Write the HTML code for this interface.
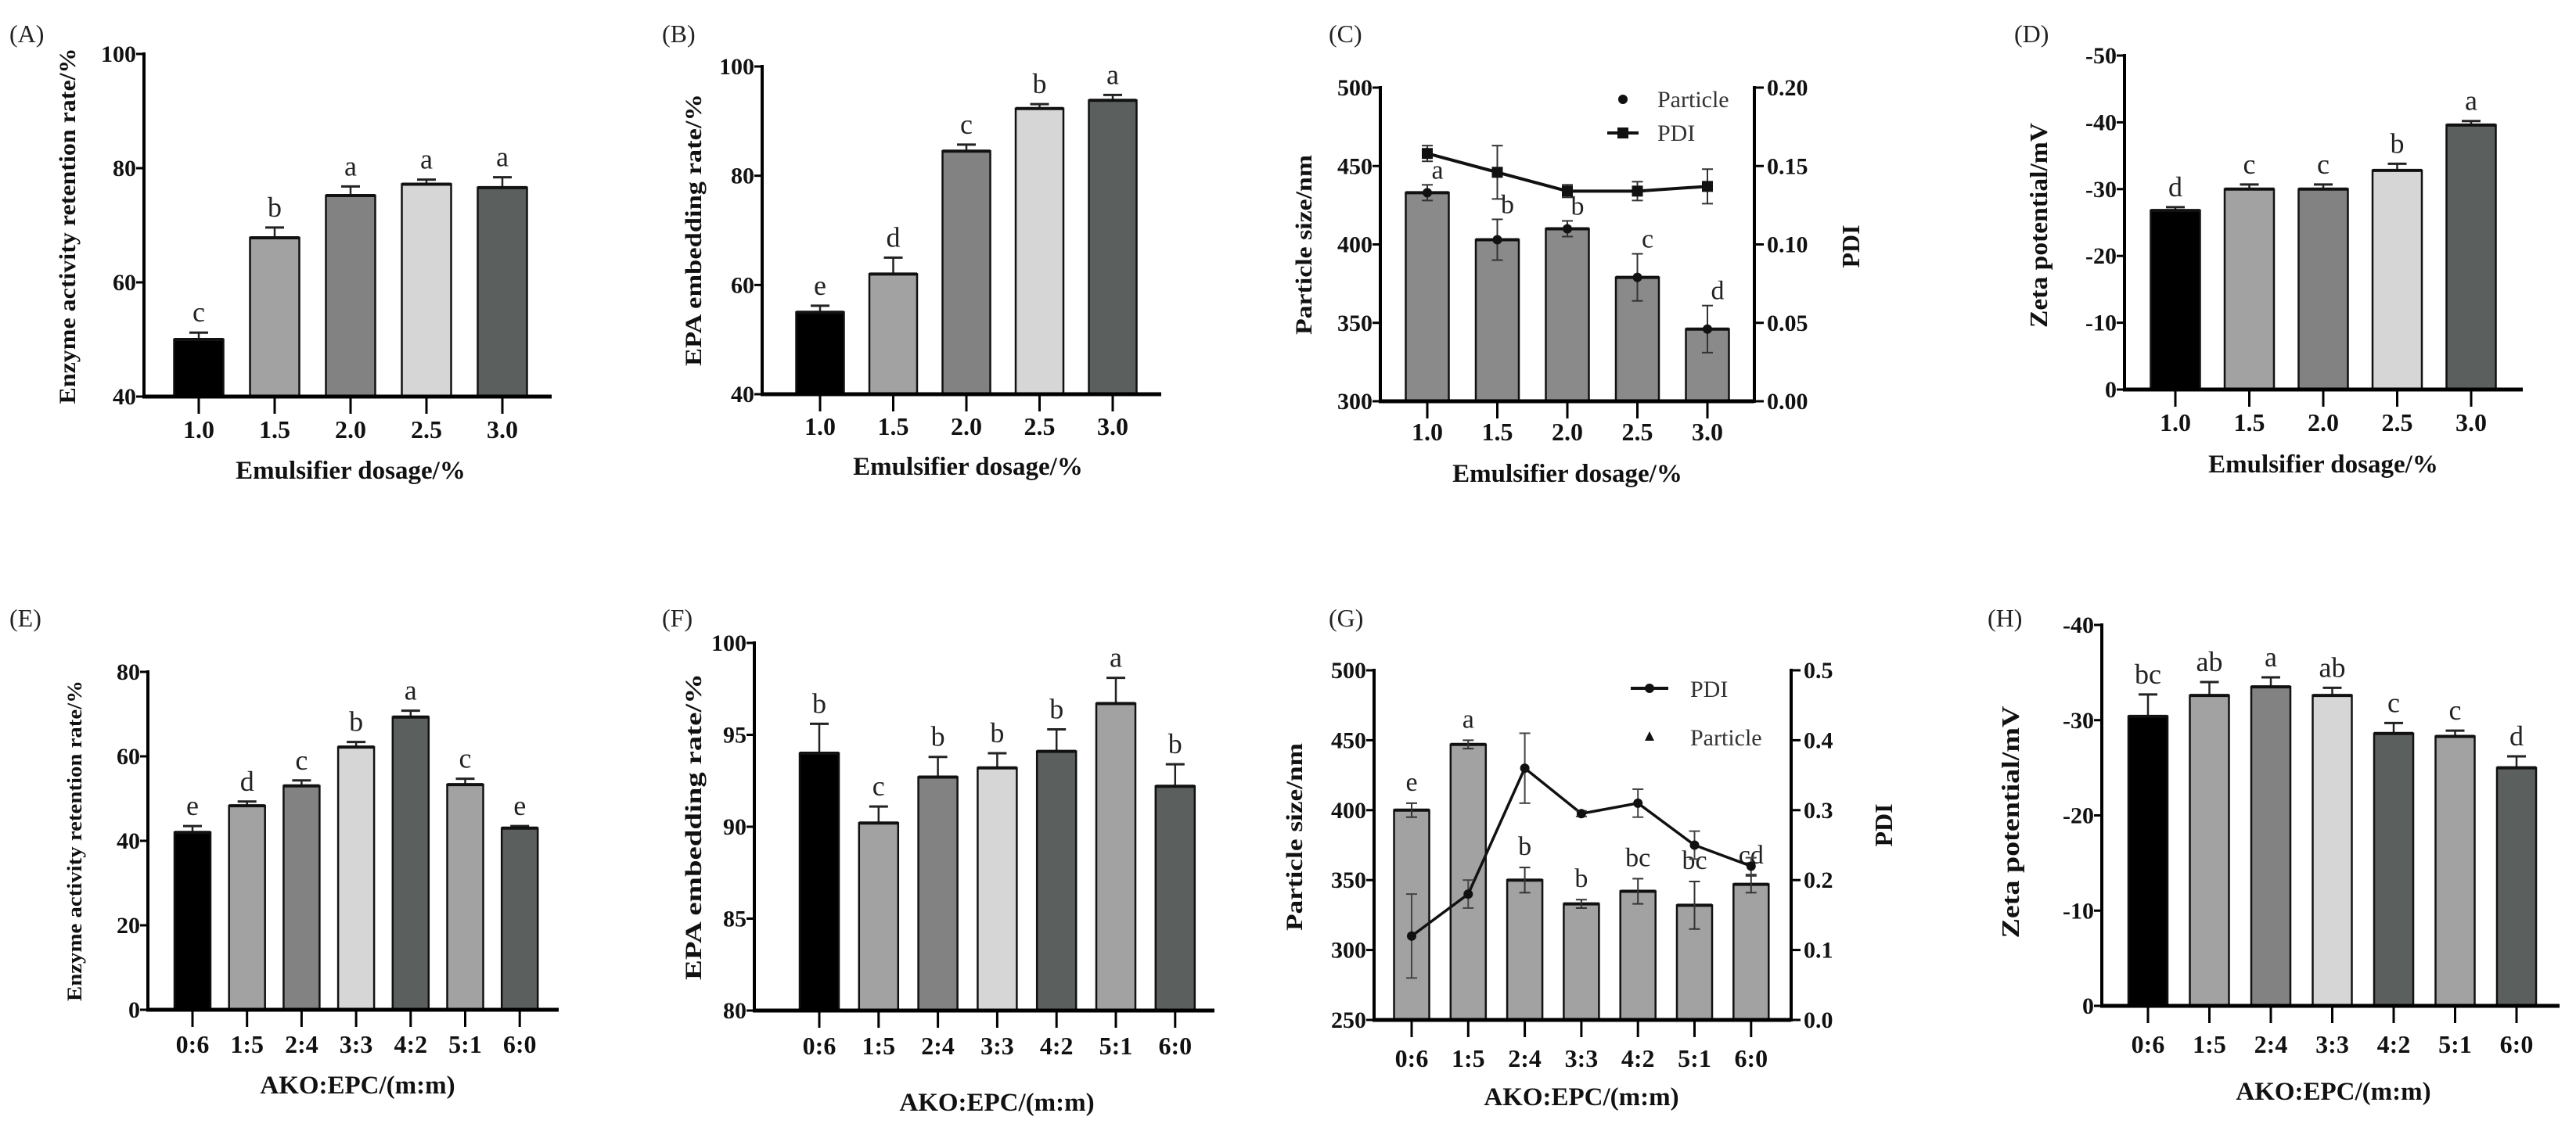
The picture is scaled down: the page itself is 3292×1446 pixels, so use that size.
<!DOCTYPE html>
<html><head><meta charset="utf-8"><style>
html,body{margin:0;padding:0;background:#fff;}
svg{display:block;font-family:"Liberation Serif",serif;}
</style></head><body>
<svg id="fig" width="3292" height="1446" viewBox="0 0 3292 1446" xmlns="http://www.w3.org/2000/svg"></svg>
<script>
// ---- Data ----
const catsDose = ["1.0","1.5","2.0","2.5","3.0"];
const catsRatio = ["0:6","1:5","2:4","3:3","4:2","5:1","6:0"];

const aVals = [50, 67.8, 75.2, 77.2, 76.6];
const aErr = [1.2, 1.8, 1.6, 0.8, 1.8];
const aLet = ["c","b","a","a","a"];
const aTicks = [40, 60, 80, 100];

const bVals = [55, 62, 84.5, 92.3, 93.8];
const bErr = [1.2, 3, 1.2, 0.8, 1.0];
const bLet = ["e","d","c","b","a"];
const bTicks = [40, 60, 80, 100];

const cParticle = [433, 403, 410, 379, 346];
const cParticleErr = [5, 13, 5, 15, 15];
const cPdi = [0.158, 0.146, 0.134, 0.134, 0.137];
const cPdiErr = [0.005, 0.017, 0.004, 0.006, 0.011];
const cLet = ["a","b","b","c","d"];
const cTicksL = [300, 350, 400, 450, 500];
const cTicksR = ["0.00","0.05","0.10","0.15","0.20"];

const dVals = [-26.8, -30, -30, -32.8, -39.6];
const dErr = [0.5, 0.7, 0.7, 1.0, 0.6];
const dLet = ["d","c","c","b","a"];
const dTicks = [0, -10, -20, -30, -40, -50];

const eVals = [42, 48.3, 53, 62.2, 69.3, 53.3, 43];
const eErr = [1.5, 1, 1.3, 1.2, 1.5, 1.4, 0.5];
const eLet = ["e","d","c","b","a","c","e"];
const eTicks = [0, 20, 40, 60, 80];

const fVals = [94, 90.2, 92.7, 93.2, 94.1, 96.7, 92.2];
const fErr = [1.6, 0.9, 1.1, 0.8, 1.2, 1.4, 1.2];
const fLet = ["b","c","b","b","b","a","b"];
const fTicks = [80, 85, 90, 95, 100];

const gParticle = [400, 447, 350, 333, 342, 332, 347];
const gParticleErr = [5, 3, 9, 3, 9, 17, 6];
const gPdi = [0.12, 0.18, 0.36, 0.295, 0.31, 0.25, 0.22];
const gPdiErr = [0.06, 0.02, 0.05, 0.004, 0.02, 0.02, 0.012];
const gLet = ["e","a","b","b","bc","bc","cd"];
const gTicksL = [250, 300, 350, 400, 450, 500];
const gTicksR = ["0.0","0.1","0.2","0.3","0.4","0.5"];

const hVals = [-30.4, -32.6, -33.5, -32.6, -28.6, -28.3, -25];
const hErr = [2.3, 1.4, 1, 0.8, 1.1, 0.6, 1.2];
const hLet = ["bc","ab","a","ab","c","c","d"];
const hTicks = [0, -10, -20, -30, -40];

const pal5 = ["#000000","#a2a2a2","#828282","#d6d6d6","#5b5f5d"];
const pal7 = ["#000000","#a2a2a2","#828282","#d6d6d6","#5b5f5d","#a2a2a2","#5b5f5d"];

// ---- helpers ----
const svg = document.getElementById('fig');
const NS = "http://www.w3.org/2000/svg";
function mk(tag, attrs, parent){
  const el = document.createElementNS(NS, tag);
  for (const k in attrs) el.setAttribute(k, attrs[k]);
  (parent||svg).appendChild(el);
  return el;
}
function txt(s, attrs, parent){ const t = mk('text', attrs, parent); t.textContent = s; return t; }

function yScale(p, v){ return p.yBot + (v - p.vmin)/(p.vmax - p.vmin)*(p.yTop - p.yBot); }
function xScale(p, i){ return p.c0 + i*p.step; }

function axes(p, g, ticks, cats, name){
  const ax = mk('line',{x1:p.ax,y1:p.yTop-2,x2:p.ax,y2:p.yBot+2,stroke:'#000','stroke-width':4},g);
  
  
  const xa = mk('line',{x1:p.ax-2,y1:p.yBot,x2:p.xEnd,y2:p.yBot,stroke:'#000','stroke-width':5},g);
  
  
  ticks.forEach(t=>{
    const y = yScale(p,t);
    mk('line',{x1:p.ax-10,y1:y,x2:p.ax,y2:y,stroke:'#000','stroke-width':3},g);
    const tl = txt(String(t),{x:p.ax-10,y:y+10,'text-anchor':'end','font-size':30,'font-weight':'bold',fill:'#111'},g);
    
    
  });
  cats.forEach((c,i)=>{
    const x = xScale(p,i);
    mk('line',{x1:x,y1:p.yBot,x2:x,y2:p.yBot+22,stroke:'#000','stroke-width':3},g);
    const cl = txt(c,{x:x,y:p.labY,'text-anchor':'middle','font-size':32,'font-weight':'bold',fill:'#111'},g);
    
    
  });
}
function titles(p, g, xt, yt, name){
  const a = txt(xt,{x:p.xtX,y:p.xtY,'text-anchor':'middle','font-size':33,'font-weight':'bold',fill:'#111'},g);
  
  
  const b = txt(yt,{x:0,y:0,'text-anchor':'middle','font-size':p.ytSize||30,'font-weight':'bold',fill:'#111',
    transform:`translate(${p.ytX},${p.ytY}) rotate(-90)`,textLength:p.ytLen,lengthAdjust:'spacingAndGlyphs'},g);
  
  
  const l = txt(p.label,{x:p.lx,y:p.ly,'font-size':32,fill:'#222'},g);
  
  
}
function errBar(g, x, y1, y2, cap, w){
  mk('line',{x1:x,y1:y1,x2:x,y2:y2,stroke:'#222','stroke-width':w||2.5},g);
  mk('line',{x1:x-cap,y1:y1,x2:x+cap,y2:y1,stroke:'#222','stroke-width':3},g);
}
function bars(p, g, vals, errs, lets, colors, name){
  vals.forEach((v,i)=>{
    const x = xScale(p,i), y = yScale(p,v), y0 = yScale(p,p.vmin);
    const r = mk('rect',{x:x-p.w/2,y:Math.min(y,y0),width:p.w,height:Math.abs(y0-y),fill:colors[i],stroke:'#111','stroke-width':2.5},g);
    
    
    const ye = yScale(p, v + (p.vmax>p.vmin?1:-1)*errs[i]);
    errBar(g, x, ye, y, 12);
    mk('line',{x1:x-p.w/2,y1:y,x2:x+p.w/2,y2:y,stroke:'#111','stroke-width':4},g);
    const t = txt(lets[i],{x:x,y:ye-14,'text-anchor':'middle','font-size':36,fill:'#222'},g);
    
    
  });
}

// ---- Panel A ----
{
  const g = mk('g',{});  
  const p = {ax:184,xEnd:705,yTop:69,yBot:507,vmin:40,vmax:100,c0:254,step:97,w:63,labY:560,
    xtX:448,xtY:612,ytX:96,ytY:289,ytLen:455,label:'(A)',lx:12,ly:54};
  bars(p,g,aVals,aErr,aLet,pal5,'panel-a');
  axes(p,g,aTicks,catsDose,'panel-a');
  titles(p,g,'Emulsifier dosage/%','Enzyme activity retention rate/%','panel-a');
}
// ---- Panel B ----
{
  const g = mk('g',{});  
  const p = {ax:974,xEnd:1484,yTop:85,yBot:504,vmin:40,vmax:100,c0:1048,step:93.5,w:61,labY:556,
    xtX:1237,xtY:607,ytX:896,ytY:294,ytLen:348,label:'(B)',lx:846,ly:54};
  bars(p,g,bVals,bErr,bLet,pal5,'panel-b');
  axes(p,g,bTicks,catsDose,'panel-b');
  titles(p,g,'Emulsifier dosage/%','EPA embedding rate/%','panel-b');
}
// ---- Panel C ----
{
  const g = mk('g',{});  
  const p = {ax:1764,xEnd:2242,yTop:112,yBot:513,vmin:300,vmax:500,c0:1824,step:89.5,w:55,labY:563,
    xtX:2003,xtY:616,ytX:1676,ytY:313,ytLen:230,label:'(C)',lx:1698,ly:54};
  const pr = {yTop:112,yBot:513,vmin:0,vmax:0.2};
  cParticle.forEach((v,i)=>{
    const x = xScale(p,i), y = yScale(p,v), y0 = p.yBot;
    const r = mk('rect',{x:x-p.w/2,y:y,width:p.w,height:y0-y,fill:'#8a8a8a',stroke:'#111','stroke-width':2.5},g);
    
    
    mk('line',{x1:x-p.w/2,y1:y,x2:x+p.w/2,y2:y,stroke:'#111','stroke-width':4},g);
    const ya = yScale(p,v+cParticleErr[i]), yb = yScale(p,v-cParticleErr[i]);
    mk('line',{x1:x,y1:ya,x2:x,y2:yb,stroke:'#333','stroke-width':2},g);
    mk('line',{x1:x-7,y1:ya,x2:x+7,y2:ya,stroke:'#333','stroke-width':2},g);
    mk('line',{x1:x-7,y1:yb,x2:x+7,y2:yb,stroke:'#333','stroke-width':2},g);
    const d = mk('circle',{cx:x,cy:y,r:6,fill:'#111'},g);
    
    
    const t = txt(cLet[i],{x:x+13,y:ya-8,'text-anchor':'middle','font-size':34,fill:'#222'},g);
    
    
  });
  const pts = cPdi.map((v,i)=>`${xScale(p,i)},${yScale(pr,v)}`).join(' ');
  const pl = mk('polyline',{points:pts,fill:'none',stroke:'#111','stroke-width':4},g);
  
  
  cPdi.forEach((v,i)=>{
    const x = xScale(p,i), y = yScale(pr,v);
    const ya = yScale(pr,v+cPdiErr[i]), yb = yScale(pr,v-cPdiErr[i]);
    mk('line',{x1:x,y1:ya,x2:x,y2:yb,stroke:'#333','stroke-width':2},g);
    mk('line',{x1:x-7,y1:ya,x2:x+7,y2:ya,stroke:'#333','stroke-width':2},g);
    mk('line',{x1:x-7,y1:yb,x2:x+7,y2:yb,stroke:'#333','stroke-width':2},g);
    const s = mk('rect',{x:x-7,y:y-7,width:14,height:14,fill:'#111'},g);
    
    
  });
  axes(p,g,cTicksL,catsDose,'panel-c');
  mk('line',{x1:2242,y1:p.yTop-2,x2:2242,y2:p.yBot+2,stroke:'#000','stroke-width':4},g);
  cTicksR.forEach(t=>{
    const y = yScale(pr,parseFloat(t));
    mk('line',{x1:2242,y1:y,x2:2254,y2:y,stroke:'#000','stroke-width':3},g);
    const tl = txt(t,{x:2258,y:y+10,'font-size':30,'font-weight':'bold',fill:'#111'},g);
    
    
  });
  titles(p,g,'Emulsifier dosage/%','Particle size/nm','panel-c');
  const rt = txt('PDI',{x:0,y:0,'text-anchor':'middle','font-size':32,'font-weight':'bold',fill:'#111',transform:'translate(2376,315) rotate(-90)'},g);
   
  const lg = mk('g',{},g);  
  mk('circle',{cx:2074,cy:127,r:6,fill:'#111'},lg);
  txt('Particle',{x:2118,y:137,'font-size':30,fill:'#333'},lg);
  mk('line',{x1:2054,y1:170,x2:2094,y2:170,stroke:'#111','stroke-width':4},lg);
  mk('rect',{x:2067,y:163,width:14,height:14,fill:'#111'},lg);
  txt('PDI',{x:2118,y:180,'font-size':30,fill:'#333'},lg);
}
// ---- Panel D ----
{
  const g = mk('g',{});  
  const p = {ax:2715,xEnd:3224,yTop:71,yBot:498,vmin:0,vmax:-50,c0:2780,step:94.5,w:63,labY:551,
    xtX:2969,xtY:604,ytX:2616,ytY:288,ytLen:262,ytSize:32,label:'(D)',lx:2574,ly:54};
  bars(p,g,dVals,dErr,dLet,pal5,'panel-d');
  axes(p,g,dTicks,catsDose,'panel-d');
  titles(p,g,'Emulsifier dosage/%','Zeta potential/mV','panel-d');
}
// ---- Panel E ----
{
  const g = mk('g',{});  
  const p = {ax:189,xEnd:714,yTop:859,yBot:1291,vmin:0,vmax:80,c0:246,step:69.7,w:46,labY:1346,
    xtX:457,xtY:1398,ytX:104,ytY:1075,ytLen:410,ytSize:26,label:'(E)',lx:12,ly:801};
  bars(p,g,eVals,eErr,eLet,pal7,'panel-e');
  axes(p,g,eTicks,catsRatio,'panel-e');
  titles(p,g,'AKO:EPC/(m:m)','Enzyme activity retention rate/%','panel-e');
}
// ---- Panel F ----
{
  const g = mk('g',{});  
  const p = {ax:964,xEnd:1552,yTop:822,yBot:1292,vmin:80,vmax:100,c0:1047,step:75.8,w:50,labY:1348,
    xtX:1274,xtY:1420,ytX:896,ytY:1057,ytLen:392,label:'(F)',lx:846,ly:801};
  bars(p,g,fVals,fErr,fLet,pal7,'panel-f');
  axes(p,g,fTicks,catsRatio,'panel-f');
  titles(p,g,'AKO:EPC/(m:m)','EPA embedding rate/%','panel-f');
}
// ---- Panel G ----
{
  const g = mk('g',{});  
  const p = {ax:1756,xEnd:2289,yTop:857,yBot:1304,vmin:250,vmax:500,c0:1804,step:72.3,w:45,labY:1364,
    xtX:2021,xtY:1413,ytX:1664,ytY:1070,ytLen:240,label:'(G)',lx:1698,ly:801};
  const pr = {yTop:857,yBot:1304,vmin:0,vmax:0.5};
  gParticle.forEach((v,i)=>{
    const x = xScale(p,i), y = yScale(p,v);
    const r = mk('rect',{x:x-p.w/2,y:y,width:p.w,height:p.yBot-y,fill:'#a2a2a2',stroke:'#111','stroke-width':2.5},g);
    
    
    mk('line',{x1:x-p.w/2,y1:y,x2:x+p.w/2,y2:y,stroke:'#111','stroke-width':4},g);
    const ya = yScale(p,v+gParticleErr[i]), yb = yScale(p,v-gParticleErr[i]);
    mk('line',{x1:x,y1:ya,x2:x,y2:yb,stroke:'#333','stroke-width':2},g);
    mk('line',{x1:x-7,y1:ya,x2:x+7,y2:ya,stroke:'#333','stroke-width':2},g);
    mk('line',{x1:x-7,y1:yb,x2:x+7,y2:yb,stroke:'#333','stroke-width':2},g);
    const t = txt(gLet[i],{x:x,y:ya-16,'text-anchor':'middle','font-size':34,fill:'#222'},g);
    
    
  });
  const pts = gPdi.map((v,i)=>`${xScale(p,i)},${yScale(pr,v)}`).join(' ');
  const pl = mk('polyline',{points:pts,fill:'none',stroke:'#111','stroke-width':3.5},g);
  
  
  gPdi.forEach((v,i)=>{
    const x = xScale(p,i), y = yScale(pr,v);
    const ya = yScale(pr,v+gPdiErr[i]), yb = yScale(pr,v-gPdiErr[i]);
    mk('line',{x1:x,y1:ya,x2:x,y2:yb,stroke:'#444','stroke-width':2},g);
    mk('line',{x1:x-7,y1:ya,x2:x+7,y2:ya,stroke:'#444','stroke-width':2},g);
    mk('line',{x1:x-7,y1:yb,x2:x+7,y2:yb,stroke:'#444','stroke-width':2},g);
    const c = mk('circle',{cx:x,cy:y,r:6,fill:'#111'},g);
    
    
  });
  axes(p,g,gTicksL,catsRatio,'panel-g');
  mk('line',{x1:2289,y1:p.yTop-2,x2:2289,y2:p.yBot+2,stroke:'#000','stroke-width':4},g);
  gTicksR.forEach(t=>{
    const y = yScale(pr,parseFloat(t));
    mk('line',{x1:2289,y1:y,x2:2301,y2:y,stroke:'#000','stroke-width':3},g);
    const tl = txt(t,{x:2305,y:y+10,'font-size':30,'font-weight':'bold',fill:'#111'},g);
    
    
  });
  titles(p,g,'AKO:EPC/(m:m)','Particle size/nm','panel-g');
  const rt = txt('PDI',{x:0,y:0,'text-anchor':'middle','font-size':32,'font-weight':'bold',fill:'#111',transform:'translate(2418,1055) rotate(-90)'},g);
   
  const lg = mk('g',{},g);  
  mk('line',{x1:2084,y1:880,x2:2132,y2:880,stroke:'#111','stroke-width':4},lg);
  mk('circle',{cx:2108,cy:880,r:6,fill:'#111'},lg);
  txt('PDI',{x:2160,y:891,'font-size':30,fill:'#333'},lg);
  mk('polygon',{points:'2108,935 2102,947 2114,947',fill:'#111'},lg);
  txt('Particle',{x:2160,y:953,'font-size':30,fill:'#333'},lg);
}
// ---- Panel H ----
{
  const g = mk('g',{});  
  const p = {ax:2686,xEnd:3271,yTop:799,yBot:1286,vmin:0,vmax:-40,c0:2745,step:78.5,w:50,labY:1346,
    xtX:2982,xtY:1406,ytX:2580,ytY:1051,ytLen:297,ytSize:32,label:'(H)',lx:2540,ly:801};
  bars(p,g,hVals,hErr,hLet,pal7,'panel-h');
  axes(p,g,hTicks,catsRatio,'panel-h');
  titles(p,g,'AKO:EPC/(m:m)','Zeta potential/mV','panel-h');
}
</script>
</body></html>
